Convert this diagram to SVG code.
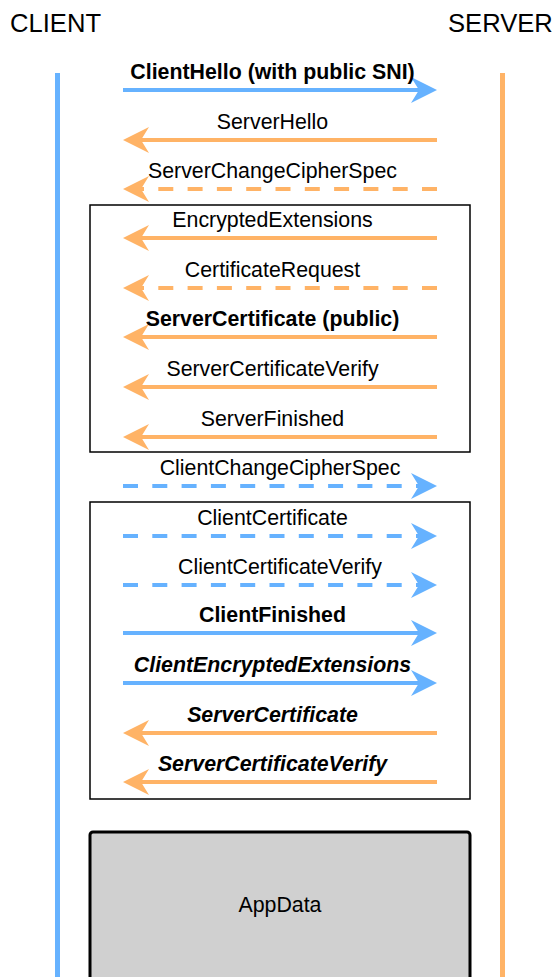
<svg xmlns="http://www.w3.org/2000/svg" width="558" height="977" viewBox="0 0 558 977">
<style>
text{font-family:"Liberation Sans",Arial,sans-serif;font-size:21.33px;fill:#000;text-anchor:middle}
.hdr{font-size:25.6px;text-anchor:start}
.b{font-weight:bold}
.bi{font-weight:bold;font-style:italic}
.c{stroke:#66B2FF;stroke-width:4;fill:none}
.s{stroke:#FFB366;stroke-width:4;fill:none}
.d{stroke-dasharray:15 14.3}
.box{fill:none;stroke:#000;stroke-width:1.5}
</style>
<defs>
<marker id="ab" markerUnits="userSpaceOnUse" viewBox="-10 -15 30 30" markerWidth="30" markerHeight="30" refX="0" refY="0" orient="auto" overflow="visible">
<path d="M18,0 L-8,-13 L0,0 L-8,13 Z" fill="#66B2FF"/>
</marker>
<marker id="ao" markerUnits="userSpaceOnUse" viewBox="-10 -15 30 30" markerWidth="30" markerHeight="30" refX="0" refY="0" orient="auto" overflow="visible">
<path d="M18,0 L-8,-13 L0,0 L-8,13 Z" fill="#FFB366"/>
</marker>
</defs>
<g id="client"><text class="hdr" x="10" y="32">CLIENT</text><line x1="57.5" y1="73" x2="57.5" y2="977" stroke="#66B2FF" stroke-width="5"/></g>
<g id="server"><text class="hdr" x="448" y="32">SERVER</text><line x1="502.5" y1="73" x2="502.5" y2="977" stroke="#FFB366" stroke-width="5"/></g>
<g id="box1"><rect class="box" x="90" y="205" width="380" height="247"/></g>
<g id="box2"><rect class="box" x="90" y="502" width="380" height="297"/></g>
<g id="appdata"><rect x="90" y="832" width="380" height="165" rx="3" fill="#D0D0D0" stroke="#000" stroke-width="3"/><text x="280" y="912">AppData</text></g>
<g id="connectors">
<path class="c" d="M123,90 H419" marker-end="url(#ab)"/>
<path class="s" d="M437,140 H141" marker-end="url(#ao)"/>
<path class="s d" d="M437,189 H141" marker-end="url(#ao)"/>
<path class="s" d="M437,238 H141" marker-end="url(#ao)"/>
<path class="s d" d="M437,288 H141" marker-end="url(#ao)"/>
<path class="s" d="M437,337 H141" marker-end="url(#ao)"/>
<path class="s" d="M437,387 H141" marker-end="url(#ao)"/>
<path class="s" d="M437,437 H141" marker-end="url(#ao)"/>
<path class="c d" d="M123,486 H419" marker-end="url(#ab)"/>
<path class="c d" d="M123,536 H419" marker-end="url(#ab)"/>
<path class="c d" d="M123,585 H419" marker-end="url(#ab)"/>
<path class="c" d="M123,633 H419" marker-end="url(#ab)"/>
<path class="c" d="M123,683 H419" marker-end="url(#ab)"/>
<path class="s" d="M437,733 H141" marker-end="url(#ao)"/>
<path class="s" d="M437,782 H141" marker-end="url(#ao)"/>
</g>
<g id="labels">
<text class="b" x="272.5" y="79">ClientHello (with public SNI)</text>
<text x="272.5" y="129">ServerHello</text>
<text x="272.5" y="178">ServerChangeCipherSpec</text>
<text x="272.5" y="227">EncryptedExtensions</text>
<text x="272.5" y="276.5">CertificateRequest</text>
<text class="b" x="272.5" y="326">ServerCertificate (public)</text>
<text x="272.5" y="376">ServerCertificateVerify</text>
<text x="272.5" y="426">ServerFinished</text>
<text x="280" y="475">ClientChangeCipherSpec</text>
<text x="272.5" y="524.5">ClientCertificate</text>
<text x="280" y="573.5">ClientCertificateVerify</text>
<text class="b" x="272.5" y="621.5">ClientFinished</text>
<text class="bi" x="272.5" y="671.5">ClientEncryptedExtensions</text>
<text class="bi" x="272.5" y="721.5">ServerCertificate</text>
<text class="bi" x="272.5" y="770.5">ServerCertificateVerify</text>
</g>
</svg>
